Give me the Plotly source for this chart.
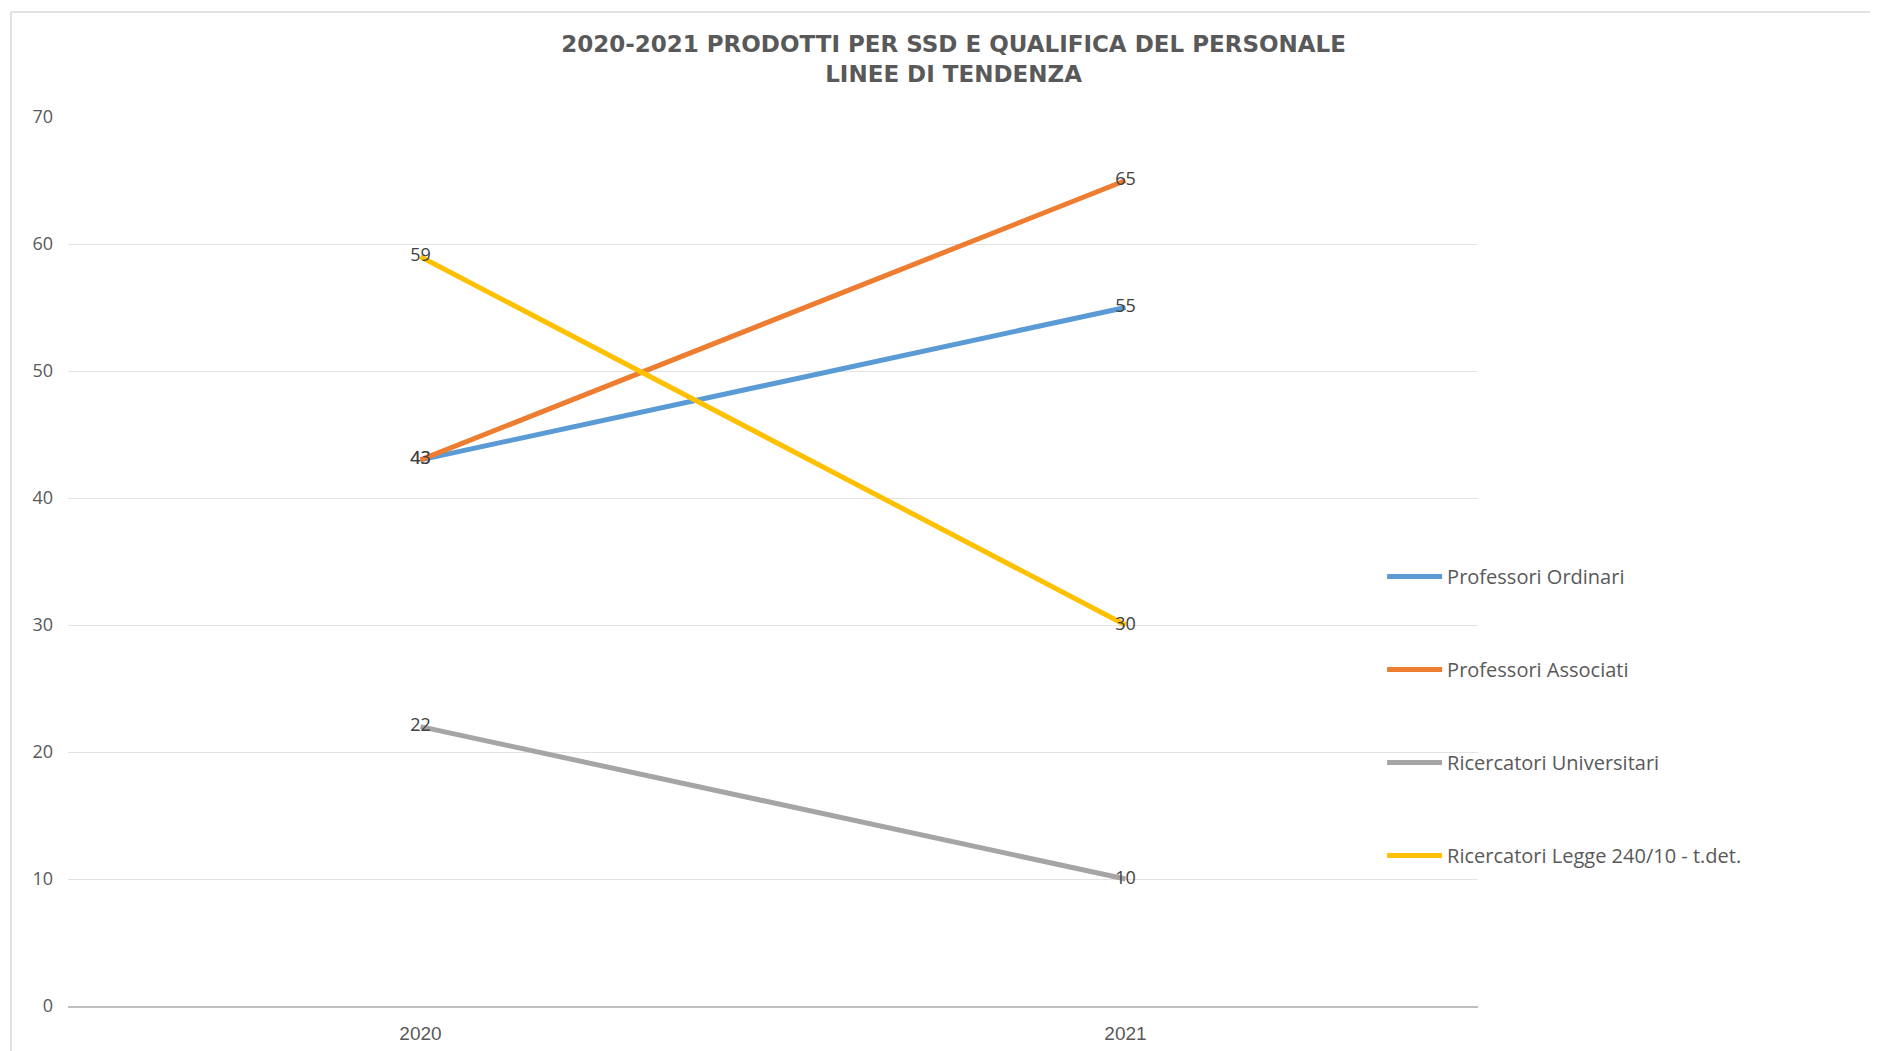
import plotly.graph_objects as go

years = ["2020", "2021"]
series_names = ["Professori Ordinari", "Professori Associati",
                "Ricercatori Universitari", "Ricercatori Legge 240/10 - t.det."]
prof_ordinari = [43, 55]
prof_associati = [43, 65]
ric_universitari = [22, 10]
ric_legge = [59, 30]
y_ticks = [0, 10, 20, 30, 40, 50, 60, 70]

colors = ["#5B9BD5", "#ED7D31", "#A5A5A5", "#FFC000"]
values = [prof_ordinari, prof_associati, ric_universitari, ric_legge]

fig = go.Figure()
for i, (name, vals) in enumerate(zip(series_names, values)):
    fig.add_trace(go.Scatter(
        x=years, y=vals, name=name, mode="lines+text",
        text=[str(v) for v in vals], textposition="middle center",
        textfont=dict(family="Open Sans", size=18, color="#404040"),
        line=dict(color=colors[i], width=5),
        legendgroup=f"g{i}",
        cliponaxis=False,
    ))

fig.update_layout(
    width=1878, height=1051,
    paper_bgcolor="white", plot_bgcolor="white",
    margin=dict(l=60, r=408, t=109, b=53),
    title=dict(
        text="<b>2020-2021 PRODOTTI PER SSD E QUALIFICA DEL PERSONALE<br>LINEE DI TENDENZA</b>",
        x=0.5035, xanchor="center", y=0.958, yanchor="top",
        font=dict(family="DejaVu Sans", size=23, color="#595959"),
    ),
    showlegend=True,
    legend=dict(
        x=0.932, xanchor="left", y=0.505, yanchor="top",
        traceorder="grouped", tracegroupgap=64,
        font=dict(family="Open Sans", size=20, color="#595959"),
        bgcolor="rgba(0,0,0,0)", itemwidth=55,
    ),
    xaxis=dict(
        type="category", range=[-0.5, 1.5],
        showgrid=False, showline=True, linecolor="#BFBFBF", linewidth=1.5,
        ticks="", tickfont=dict(family="Liberation Sans", size=19, color="#595959"),
        ticklabelstandoff=9,
    ),
    yaxis=dict(
        range=[0, 70], tickvals=y_ticks,
        showgrid=True, gridcolor="#E3E3E3", gridwidth=1,
        zeroline=False, showline=False, ticks="",
        tickfont=dict(family="Open Sans", size=18, color="#595959"),
        ticklabelstandoff=14,
    ),
    shapes=[
        dict(type="line", xref="paper", yref="paper", x0=-0.0405, x1=-0.0405, y0=-0.07, y1=1.118,
             line=dict(color="#D9D9D9", width=1.5)),
        dict(type="line", xref="paper", yref="paper", x0=-0.0405, x1=1.3, y0=1.118, y1=1.118,
             line=dict(color="#D9D9D9", width=1.5)),
    ],
)

fig.write_html("out.html")
